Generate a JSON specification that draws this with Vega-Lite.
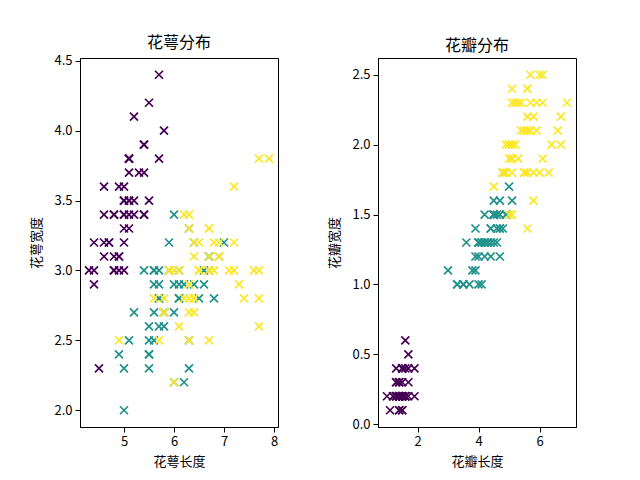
{
  "$schema": "https://vega.github.io/schema/vega-lite/v6.json",
  "padding": {"left": 30, "top": 34, "right": 0, "bottom": 0},
  "bounds": "flush",
  "spacing": 100,
  "background": "white",
  "config": {
    "view": {"stroke": "black", "strokeWidth": 1},
    "font": "Noto Sans CJK SC",
    "axis": {"grid": false, "domainColor": "black", "tickColor": "black", "labelColor": "black", "titleColor": "black", "labelFont": "Noto Sans CJK SC", "titleFont": "Noto Sans CJK SC", "labelFontSize": 13, "titleFontSize": 13, "titleFontWeight": "normal", "tickSize": 5, "labelPadding": 3},
    "axisX": {"titlePadding": 7},
    "axisY": {"titlePadding": 10},
    "title": {"font": "Noto Sans CJK SC", "fontSize": 16, "fontWeight": "normal", "color": "black", "offset": 4}
  },
  "data": {"values": [
    {"sl":5.1,"sw":3.5,"pl":1.4,"pw":0.2,"s":0},{"sl":4.9,"sw":3.0,"pl":1.4,"pw":0.2,"s":0},{"sl":4.7,"sw":3.2,"pl":1.3,"pw":0.2,"s":0},{"sl":4.6,"sw":3.1,"pl":1.5,"pw":0.2,"s":0},{"sl":5.0,"sw":3.6,"pl":1.4,"pw":0.2,"s":0},
    {"sl":5.4,"sw":3.9,"pl":1.7,"pw":0.4,"s":0},{"sl":4.6,"sw":3.4,"pl":1.4,"pw":0.3,"s":0},{"sl":5.0,"sw":3.4,"pl":1.5,"pw":0.2,"s":0},{"sl":4.4,"sw":2.9,"pl":1.4,"pw":0.2,"s":0},{"sl":4.9,"sw":3.1,"pl":1.5,"pw":0.1,"s":0},
    {"sl":5.4,"sw":3.7,"pl":1.5,"pw":0.2,"s":0},{"sl":4.8,"sw":3.4,"pl":1.6,"pw":0.2,"s":0},{"sl":4.8,"sw":3.0,"pl":1.4,"pw":0.1,"s":0},{"sl":4.3,"sw":3.0,"pl":1.1,"pw":0.1,"s":0},{"sl":5.8,"sw":4.0,"pl":1.2,"pw":0.2,"s":0},
    {"sl":5.7,"sw":4.4,"pl":1.5,"pw":0.4,"s":0},{"sl":5.4,"sw":3.9,"pl":1.3,"pw":0.4,"s":0},{"sl":5.1,"sw":3.5,"pl":1.4,"pw":0.3,"s":0},{"sl":5.7,"sw":3.8,"pl":1.7,"pw":0.3,"s":0},{"sl":5.1,"sw":3.8,"pl":1.5,"pw":0.3,"s":0},
    {"sl":5.4,"sw":3.4,"pl":1.7,"pw":0.2,"s":0},{"sl":5.1,"sw":3.7,"pl":1.5,"pw":0.4,"s":0},{"sl":4.6,"sw":3.6,"pl":1.0,"pw":0.2,"s":0},{"sl":5.1,"sw":3.3,"pl":1.7,"pw":0.5,"s":0},{"sl":4.8,"sw":3.4,"pl":1.9,"pw":0.2,"s":0},
    {"sl":5.0,"sw":3.0,"pl":1.6,"pw":0.2,"s":0},{"sl":5.0,"sw":3.4,"pl":1.6,"pw":0.4,"s":0},{"sl":5.2,"sw":3.5,"pl":1.5,"pw":0.2,"s":0},{"sl":5.2,"sw":3.4,"pl":1.4,"pw":0.2,"s":0},{"sl":4.7,"sw":3.2,"pl":1.6,"pw":0.2,"s":0},
    {"sl":4.8,"sw":3.1,"pl":1.6,"pw":0.2,"s":0},{"sl":5.4,"sw":3.4,"pl":1.5,"pw":0.4,"s":0},{"sl":5.2,"sw":4.1,"pl":1.5,"pw":0.1,"s":0},{"sl":5.5,"sw":4.2,"pl":1.4,"pw":0.2,"s":0},{"sl":4.9,"sw":3.1,"pl":1.5,"pw":0.2,"s":0},
    {"sl":5.0,"sw":3.2,"pl":1.2,"pw":0.2,"s":0},{"sl":5.5,"sw":3.5,"pl":1.3,"pw":0.2,"s":0},{"sl":4.9,"sw":3.6,"pl":1.4,"pw":0.1,"s":0},{"sl":4.4,"sw":3.0,"pl":1.3,"pw":0.2,"s":0},{"sl":5.1,"sw":3.4,"pl":1.5,"pw":0.2,"s":0},
    {"sl":5.0,"sw":3.5,"pl":1.3,"pw":0.3,"s":0},{"sl":4.5,"sw":2.3,"pl":1.3,"pw":0.3,"s":0},{"sl":4.4,"sw":3.2,"pl":1.3,"pw":0.2,"s":0},{"sl":5.0,"sw":3.5,"pl":1.6,"pw":0.6,"s":0},{"sl":5.1,"sw":3.8,"pl":1.9,"pw":0.4,"s":0},
    {"sl":4.8,"sw":3.0,"pl":1.4,"pw":0.3,"s":0},{"sl":5.1,"sw":3.8,"pl":1.6,"pw":0.2,"s":0},{"sl":4.6,"sw":3.2,"pl":1.4,"pw":0.2,"s":0},{"sl":5.3,"sw":3.7,"pl":1.5,"pw":0.2,"s":0},{"sl":5.0,"sw":3.3,"pl":1.4,"pw":0.2,"s":0},
    {"sl":7.0,"sw":3.2,"pl":4.7,"pw":1.4,"s":1},{"sl":6.4,"sw":3.2,"pl":4.5,"pw":1.5,"s":1},{"sl":6.9,"sw":3.1,"pl":4.9,"pw":1.5,"s":1},{"sl":5.5,"sw":2.3,"pl":4.0,"pw":1.3,"s":1},{"sl":6.5,"sw":2.8,"pl":4.6,"pw":1.5,"s":1},
    {"sl":5.7,"sw":2.8,"pl":4.5,"pw":1.3,"s":1},{"sl":6.3,"sw":3.3,"pl":4.7,"pw":1.6,"s":1},{"sl":4.9,"sw":2.4,"pl":3.3,"pw":1.0,"s":1},{"sl":6.6,"sw":2.9,"pl":4.6,"pw":1.3,"s":1},{"sl":5.2,"sw":2.7,"pl":3.9,"pw":1.4,"s":1},
    {"sl":5.0,"sw":2.0,"pl":3.5,"pw":1.0,"s":1},{"sl":5.9,"sw":3.0,"pl":4.2,"pw":1.5,"s":1},{"sl":6.0,"sw":2.2,"pl":4.0,"pw":1.0,"s":1},{"sl":6.1,"sw":2.9,"pl":4.7,"pw":1.4,"s":1},{"sl":5.6,"sw":2.9,"pl":3.6,"pw":1.3,"s":1},
    {"sl":6.7,"sw":3.1,"pl":4.4,"pw":1.4,"s":1},{"sl":5.6,"sw":3.0,"pl":4.5,"pw":1.5,"s":1},{"sl":5.8,"sw":2.7,"pl":4.1,"pw":1.0,"s":1},{"sl":6.2,"sw":2.2,"pl":4.5,"pw":1.5,"s":1},{"sl":5.6,"sw":2.5,"pl":3.9,"pw":1.1,"s":1},
    {"sl":5.9,"sw":3.2,"pl":4.8,"pw":1.8,"s":1},{"sl":6.1,"sw":2.8,"pl":4.0,"pw":1.3,"s":1},{"sl":6.3,"sw":2.5,"pl":4.9,"pw":1.5,"s":1},{"sl":6.1,"sw":2.8,"pl":4.7,"pw":1.2,"s":1},{"sl":6.4,"sw":2.9,"pl":4.3,"pw":1.3,"s":1},
    {"sl":6.6,"sw":3.0,"pl":4.4,"pw":1.4,"s":1},{"sl":6.8,"sw":2.8,"pl":4.8,"pw":1.4,"s":1},{"sl":6.7,"sw":3.0,"pl":5.0,"pw":1.7,"s":1},{"sl":6.0,"sw":2.9,"pl":4.5,"pw":1.5,"s":1},{"sl":5.7,"sw":2.6,"pl":3.5,"pw":1.0,"s":1},
    {"sl":5.5,"sw":2.4,"pl":3.8,"pw":1.1,"s":1},{"sl":5.5,"sw":2.4,"pl":3.7,"pw":1.0,"s":1},{"sl":5.8,"sw":2.7,"pl":3.9,"pw":1.2,"s":1},{"sl":6.0,"sw":2.7,"pl":5.1,"pw":1.6,"s":1},{"sl":5.4,"sw":3.0,"pl":4.5,"pw":1.5,"s":1},
    {"sl":6.0,"sw":3.4,"pl":4.5,"pw":1.6,"s":1},{"sl":6.7,"sw":3.1,"pl":4.7,"pw":1.5,"s":1},{"sl":6.3,"sw":2.3,"pl":4.4,"pw":1.3,"s":1},{"sl":5.6,"sw":3.0,"pl":4.1,"pw":1.3,"s":1},{"sl":5.5,"sw":2.5,"pl":4.0,"pw":1.3,"s":1},
    {"sl":5.5,"sw":2.6,"pl":4.4,"pw":1.2,"s":1},{"sl":6.1,"sw":3.0,"pl":4.6,"pw":1.4,"s":1},{"sl":5.8,"sw":2.6,"pl":4.0,"pw":1.2,"s":1},{"sl":5.0,"sw":2.3,"pl":3.3,"pw":1.0,"s":1},{"sl":5.6,"sw":2.7,"pl":4.2,"pw":1.3,"s":1},
    {"sl":5.7,"sw":3.0,"pl":4.2,"pw":1.2,"s":1},{"sl":5.7,"sw":2.9,"pl":4.2,"pw":1.3,"s":1},{"sl":6.2,"sw":2.9,"pl":4.3,"pw":1.3,"s":1},{"sl":5.1,"sw":2.5,"pl":3.0,"pw":1.1,"s":1},{"sl":5.7,"sw":2.8,"pl":4.1,"pw":1.3,"s":1},
    {"sl":6.3,"sw":3.3,"pl":6.0,"pw":2.5,"s":2},{"sl":5.8,"sw":2.7,"pl":5.1,"pw":1.9,"s":2},{"sl":7.1,"sw":3.0,"pl":5.9,"pw":2.1,"s":2},{"sl":6.3,"sw":2.9,"pl":5.6,"pw":1.8,"s":2},{"sl":6.5,"sw":3.0,"pl":5.8,"pw":2.2,"s":2},
    {"sl":7.6,"sw":3.0,"pl":6.6,"pw":2.1,"s":2},{"sl":4.9,"sw":2.5,"pl":4.5,"pw":1.7,"s":2},{"sl":7.3,"sw":2.9,"pl":6.3,"pw":1.8,"s":2},{"sl":6.7,"sw":2.5,"pl":5.8,"pw":1.8,"s":2},{"sl":7.2,"sw":3.6,"pl":6.1,"pw":2.5,"s":2},
    {"sl":6.5,"sw":3.2,"pl":5.1,"pw":2.0,"s":2},{"sl":6.4,"sw":2.7,"pl":5.3,"pw":1.9,"s":2},{"sl":6.8,"sw":3.0,"pl":5.5,"pw":2.1,"s":2},{"sl":5.7,"sw":2.5,"pl":5.0,"pw":2.0,"s":2},{"sl":5.8,"sw":2.8,"pl":5.1,"pw":2.4,"s":2},
    {"sl":6.4,"sw":3.2,"pl":5.3,"pw":2.3,"s":2},{"sl":6.5,"sw":3.0,"pl":5.5,"pw":1.8,"s":2},{"sl":7.7,"sw":3.8,"pl":6.7,"pw":2.2,"s":2},{"sl":7.7,"sw":2.6,"pl":6.9,"pw":2.3,"s":2},{"sl":6.0,"sw":2.2,"pl":5.0,"pw":1.5,"s":2},
    {"sl":6.9,"sw":3.2,"pl":5.7,"pw":2.3,"s":2},{"sl":5.6,"sw":2.8,"pl":4.9,"pw":2.0,"s":2},{"sl":7.7,"sw":2.8,"pl":6.7,"pw":2.0,"s":2},{"sl":6.3,"sw":2.7,"pl":4.9,"pw":1.8,"s":2},{"sl":6.7,"sw":3.3,"pl":5.7,"pw":2.1,"s":2},
    {"sl":7.2,"sw":3.2,"pl":6.0,"pw":1.8,"s":2},{"sl":6.2,"sw":2.8,"pl":4.8,"pw":1.8,"s":2},{"sl":6.1,"sw":3.0,"pl":4.9,"pw":1.8,"s":2},{"sl":6.4,"sw":2.8,"pl":5.6,"pw":2.1,"s":2},{"sl":7.2,"sw":3.0,"pl":5.8,"pw":1.6,"s":2},
    {"sl":7.4,"sw":2.8,"pl":6.1,"pw":1.9,"s":2},{"sl":7.9,"sw":3.8,"pl":6.4,"pw":2.0,"s":2},{"sl":6.4,"sw":2.8,"pl":5.6,"pw":2.2,"s":2},{"sl":6.3,"sw":2.8,"pl":5.1,"pw":1.5,"s":2},{"sl":6.1,"sw":2.6,"pl":5.6,"pw":1.4,"s":2},
    {"sl":7.7,"sw":3.0,"pl":6.1,"pw":2.3,"s":2},{"sl":6.3,"sw":3.4,"pl":5.6,"pw":2.4,"s":2},{"sl":6.4,"sw":3.1,"pl":5.5,"pw":1.8,"s":2},{"sl":6.0,"sw":3.0,"pl":4.8,"pw":1.8,"s":2},{"sl":6.9,"sw":3.1,"pl":5.4,"pw":2.1,"s":2},
    {"sl":6.7,"sw":3.1,"pl":5.6,"pw":2.4,"s":2},{"sl":6.9,"sw":3.1,"pl":5.1,"pw":2.3,"s":2},{"sl":5.8,"sw":2.7,"pl":5.1,"pw":1.9,"s":2},{"sl":6.8,"sw":3.2,"pl":5.9,"pw":2.3,"s":2},{"sl":6.7,"sw":3.3,"pl":5.7,"pw":2.5,"s":2},
    {"sl":6.7,"sw":3.0,"pl":5.2,"pw":2.3,"s":2},{"sl":6.3,"sw":2.5,"pl":5.0,"pw":1.9,"s":2},{"sl":6.5,"sw":3.0,"pl":5.2,"pw":2.0,"s":2},{"sl":6.2,"sw":3.4,"pl":5.4,"pw":2.3,"s":2},{"sl":5.9,"sw":3.0,"pl":5.1,"pw":1.8,"s":2}
  ]},
  "hconcat": [
    {
      "title": "花萼分布",
      "width": 198,
      "height": 369,
      "mark": {"type": "point", "shape": "M-1,-1L1,1M-1,1L1,-1", "filled": false, "strokeWidth": 1.7, "size": 64, "opacity": 1},
      "encoding": {
        "x": {"field": "sl", "type": "quantitative", "title": "花萼长度", "scale": {"domain": [4.12, 8.08], "nice": false, "zero": false}, "axis": {"values": [5, 6, 7, 8], "format": "d"}},
        "y": {"field": "sw", "type": "quantitative", "title": "花萼宽度", "scale": {"domain": [1.88, 4.52], "nice": false, "zero": false}, "axis": {"values": [2.0, 2.5, 3.0, 3.5, 4.0, 4.5], "format": ".1f"}},
        "color": {"field": "s", "type": "nominal", "scale": {"domain": [0, 1, 2], "range": ["#440154", "#21918c", "#fde725"]}, "legend": null}
      }
    },
    {
      "title": "花瓣分布",
      "width": 198,
      "height": 369,
      "mark": {"type": "point", "shape": "M-1,-1L1,1M-1,1L1,-1", "filled": false, "strokeWidth": 1.7, "size": 64, "opacity": 1},
      "encoding": {
        "x": {"field": "pl", "type": "quantitative", "title": "花瓣长度", "scale": {"domain": [0.705, 7.195], "nice": false, "zero": false}, "axis": {"values": [2, 4, 6], "format": "d"}},
        "y": {"field": "pw", "type": "quantitative", "title": "花瓣宽度", "scale": {"domain": [-0.02, 2.62], "nice": false, "zero": false}, "axis": {"values": [0.0, 0.5, 1.0, 1.5, 2.0, 2.5], "format": ".1f"}},
        "color": {"field": "s", "type": "nominal", "scale": {"domain": [0, 1, 2], "range": ["#440154", "#21918c", "#fde725"]}, "legend": null}
      }
    }
  ]
}
